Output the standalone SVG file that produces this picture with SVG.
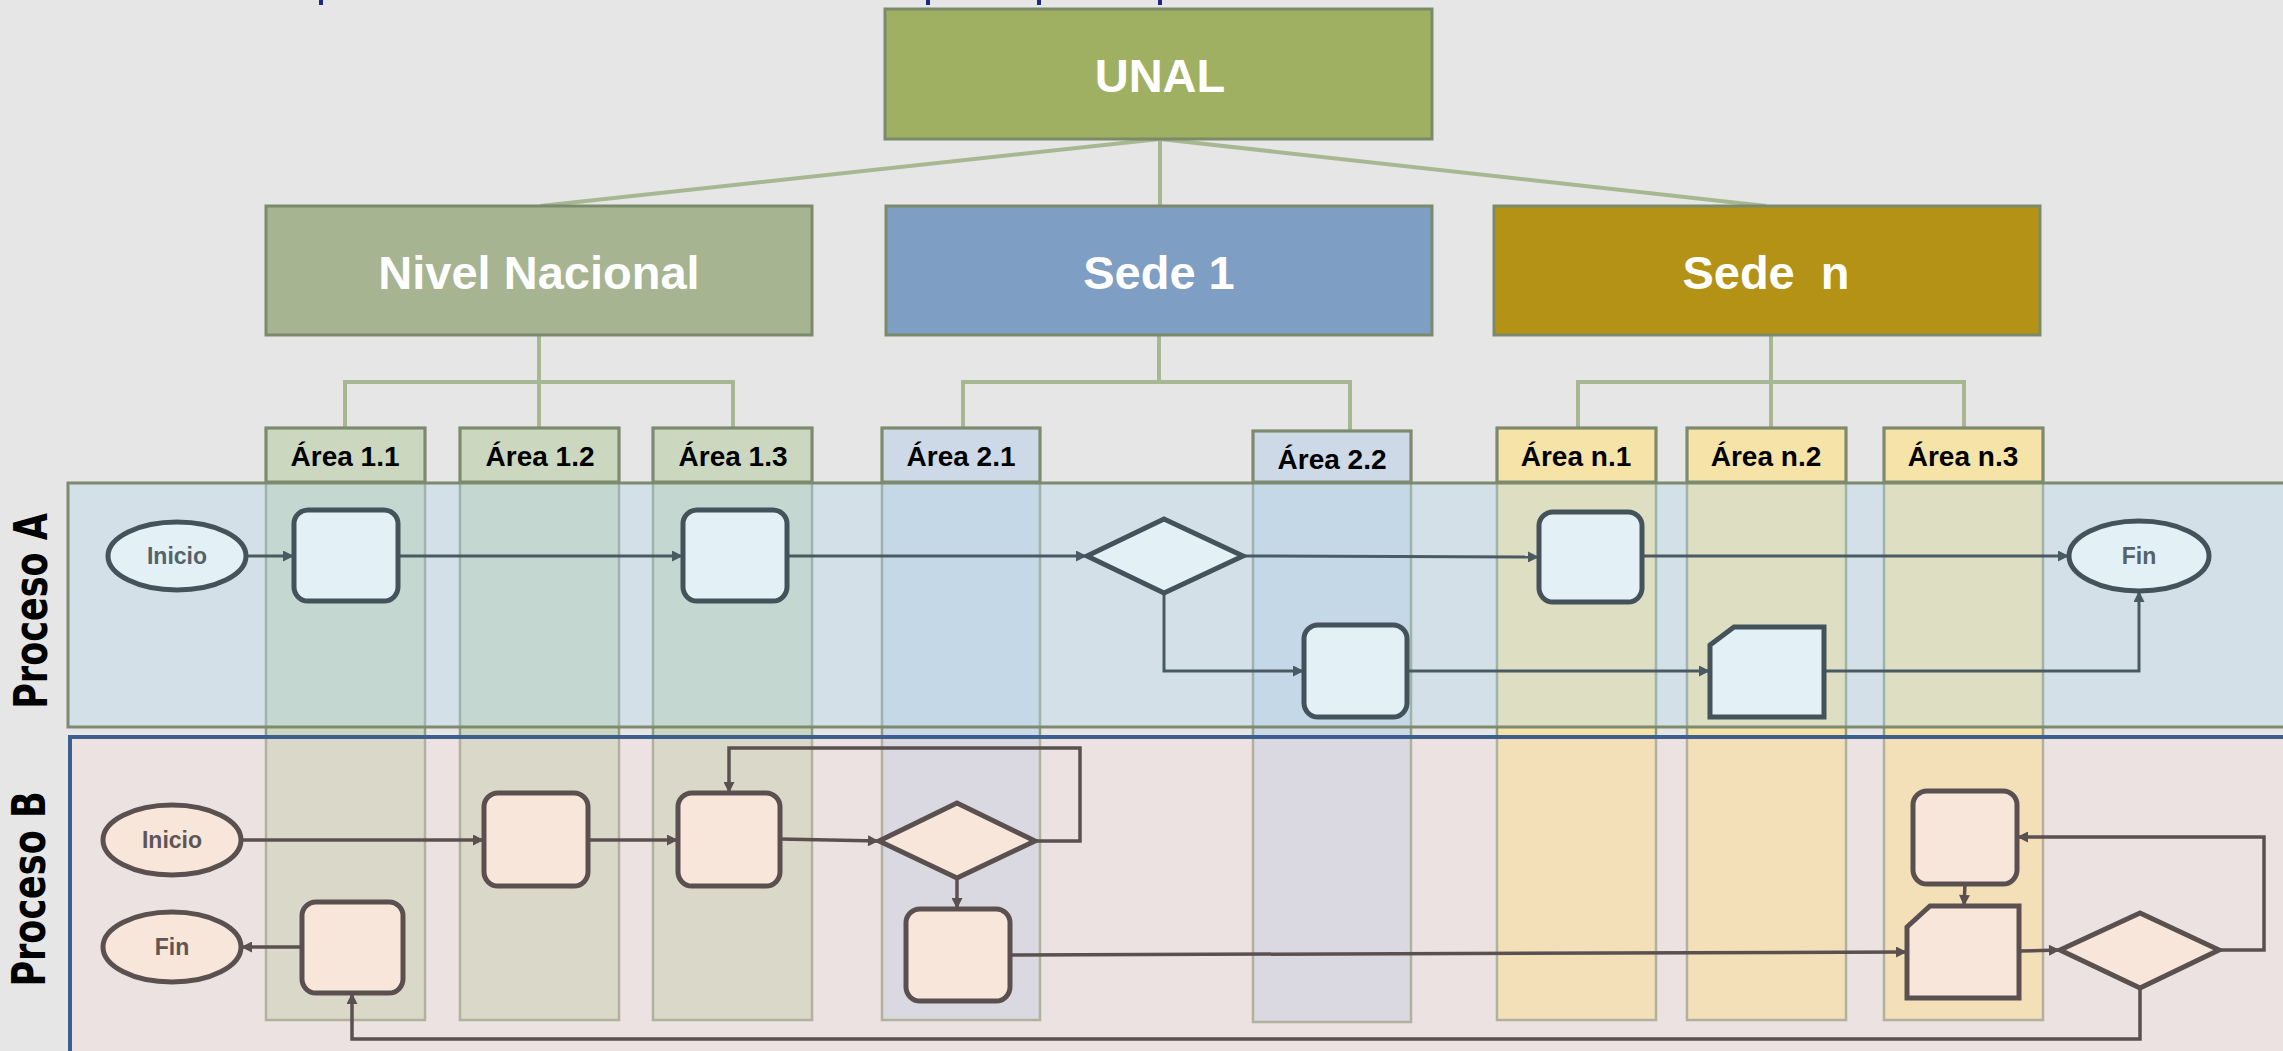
<svg xmlns="http://www.w3.org/2000/svg" width="2283" height="1051" viewBox="0 0 2283 1051">
<defs>
<style>
.org{stroke:#7b8a6a;stroke-width:3}
.orgtxt{font-family:"Liberation Sans",Arial,sans-serif;font-weight:bold;font-size:47px;fill:#ffffff;text-anchor:middle}
.tree{stroke:#a7b792;stroke-width:4;fill:none}
.col{stroke:#8e9c80;stroke-width:2.5}
.hdr{fill:none;stroke:#7d8a6e;stroke-width:3}
.c1{fill:#ccd7c0}
.c2{fill:#cdd9e6}
.cn{fill:#f5e3a8}
.areatxt{font-family:"Liberation Sans",Arial,sans-serif;font-weight:bold;font-size:28px;fill:#000;text-anchor:middle}
.lanetxt{font-family:"DejaVu Sans",Verdana,sans-serif;font-weight:bold;font-size:35px;fill:#000;text-anchor:middle}
.nA{fill:#e3f1f6;stroke:#44535b;stroke-width:5}
.nB{fill:#f8e6db;stroke:#5b5050;stroke-width:5}
.tA{font-family:"Liberation Sans",Arial,sans-serif;font-weight:bold;font-size:23px;fill:#55626a;text-anchor:middle}
.tB{font-family:"Liberation Sans",Arial,sans-serif;font-weight:bold;font-size:23px;fill:#5f5555;text-anchor:middle}
.eA{fill:none;stroke:#4a5a62;stroke-width:3;marker-end:url(#arrA)}
.eB{fill:none;stroke:#5b5050;stroke-width:3.5;marker-end:url(#arrB)}
</style>
<marker id="arrA" viewBox="0 0 10 10" refX="10" refY="5" markerWidth="13" markerHeight="11" markerUnits="userSpaceOnUse" orient="auto"><path d="M0,0 L10,5 L0,10 z" fill="#4a5a62"/></marker>
<marker id="arrB" viewBox="0 0 10 10" refX="10" refY="5" markerWidth="13" markerHeight="11" markerUnits="userSpaceOnUse" orient="auto"><path d="M0,0 L10,5 L0,10 z" fill="#5b5050"/></marker>
</defs>
<rect x="0" y="0" width="2283" height="1051" fill="#e6e6e6"/>
<g id="title-fragments" fill="#1a2a85">
<rect x="319" y="0" width="4" height="5"/><rect x="926" y="0" width="4" height="5"/><rect x="1037" y="0" width="4" height="5"/><rect x="1158" y="0" width="4" height="5"/>
</g>
<g id="tree-connectors">
<path class="tree" d="M1160,139 L540,206 M1160,139 L1160,206 M1160,139 L1766,206"/>
<path class="tree" d="M539,335 V382 M345,428 V382 H733 V428 M539,382 V428"/>
<path class="tree" d="M1159,336 V382 M963,428 V382 H1350 V431"/>
<path class="tree" d="M1771,336 V382 M1578,428 V382 H1964 V428 M1771,382 V428"/>
</g>
<g id="unal"><rect class="org" x="885" y="9" width="547" height="130" fill="#9fb062"/><text class="orgtxt" x="1160" y="92">UNAL</text></g>
<g id="nivel-nacional"><rect class="org" x="266" y="206" width="546" height="129" fill="#a6b491"/><text class="orgtxt" x="539" y="289">Nivel Nacional</text></g>
<g id="sede-1"><rect class="org" x="886" y="206" width="546" height="129" fill="#7f9ec3"/><text class="orgtxt" x="1159" y="289">Sede 1</text></g>
<g id="sede-n"><rect class="org" x="1494" y="206" width="546" height="129" fill="#b49215"/><text class="orgtxt" x="1766" y="289" xml:space="preserve">Sede  n</text></g>
<g id="columns">
<g id="area-1-1"><rect class="col c1" x="266" y="428" width="159" height="592"/><rect class="hdr" x="266" y="428" width="159" height="54"/></g>
<g id="area-1-2"><rect class="col c1" x="460" y="428" width="159" height="592"/><rect class="hdr" x="460" y="428" width="159" height="54"/></g>
<g id="area-1-3"><rect class="col c1" x="653" y="428" width="159" height="592"/><rect class="hdr" x="653" y="428" width="159" height="54"/></g>
<g id="area-2-1"><rect class="col c2" x="882" y="428" width="158" height="592"/><rect class="hdr" x="882" y="428" width="158" height="54"/></g>
<g id="area-2-2"><rect class="col c2" x="1253" y="431" width="158" height="591"/><rect class="hdr" x="1253" y="431" width="158" height="51"/></g>
<g id="area-n-1"><rect class="col cn" x="1497" y="428" width="159" height="592"/><rect class="hdr" x="1497" y="428" width="159" height="54"/></g>
<g id="area-n-2"><rect class="col cn" x="1687" y="428" width="159" height="592"/><rect class="hdr" x="1687" y="428" width="159" height="54"/></g>
<g id="area-n-3"><rect class="col cn" x="1884" y="428" width="159" height="592"/><rect class="hdr" x="1884" y="428" width="159" height="54"/></g>
</g>
<g id="lanes">
<rect id="lane-a" x="68" y="483" width="2230" height="244" fill="#b9d8e8" fill-opacity="0.4" stroke="#7d8a6e" stroke-width="3"/>
<rect id="lane-b" x="70" y="737" width="2230" height="330" fill="#f4dbd8" fill-opacity="0.35" stroke="#3d5f8f" stroke-width="4"/>
</g>
<g id="area-labels">
<text class="areatxt" x="345" y="466">Área 1.1</text>
<text class="areatxt" x="540" y="466">Área 1.2</text>
<text class="areatxt" x="733" y="466">Área 1.3</text>
<text class="areatxt" x="961" y="466">Área 2.1</text>
<text class="areatxt" x="1332" y="469">Área 2.2</text>
<text class="areatxt" x="1576" y="466">Área n.1</text>
<text class="areatxt" x="1766" y="466">Área n.2</text>
<text class="areatxt" x="1963" y="466">Área n.3</text>
</g>
<g id="lane-labels">
<text class="lanetxt" transform="translate(47,611) rotate(-90) scale(1,1.3)">Proceso A</text>
<text class="lanetxt" transform="translate(45,889) rotate(-90) scale(1,1.3)">Proceso B</text>
</g>
<g id="connectors">
<path class="eA" d="M247,556 H294"/>
<path class="eA" d="M398,556 H683"/>
<path class="eA" d="M787,556 H1087"/>
<path class="eA" d="M1243,556 L1539,557"/>
<path class="eA" d="M1164,593 V671 H1304"/>
<path class="eA" d="M1407,671 H1710"/>
<path class="eA" d="M1824,671 H2139 V591"/>
<path class="eA" d="M1642,556 H2069"/>
<path class="eB" d="M241,840 H484"/>
<path class="eB" d="M588,840 H678"/>
<path class="eB" d="M780,839 L879,841"/>
<path class="eB" d="M1035,841 H1080 V748 H729 V793"/>
<path class="eB" d="M957,878 V909"/>
<path class="eB" d="M1010,955 L1907,952"/>
<path class="eB" d="M1965,884 L1964,906"/>
<path class="eB" d="M2019,951 L2060,950"/>
<path class="eB" d="M2219,950 H2264 V837 H2017"/>
<path class="eB" d="M2140,988 V1039 H352 V993"/>
<path class="eB" d="M302,947 H241"/>
</g>
<g id="a-inicio"><ellipse class="nA" cx="177" cy="556" rx="69" ry="34"/><text class="tA" x="177" y="564">Inicio</text></g>
<g id="a-task-1-1"><rect class="nA" x="294" y="510" width="104" height="91" rx="14"/></g>
<g id="a-task-1-3"><rect class="nA" x="683" y="510" width="104" height="91" rx="14"/></g>
<g id="a-decision"><polygon class="nA" points="1087,556 1164,519 1243,556 1164,593"/></g>
<g id="a-task-n-1"><rect class="nA" x="1539" y="512" width="103" height="90" rx="14"/></g>
<g id="a-task-2-2"><rect class="nA" x="1304" y="625" width="103" height="92" rx="14"/></g>
<g id="a-card-n-2"><polygon class="nA" points="1710,645 1734,627 1824,627 1824,717 1710,717"/></g>
<g id="a-fin"><ellipse class="nA" cx="2139" cy="556" rx="70" ry="35"/><text class="tA" x="2139" y="564">Fin</text></g>
<g id="b-inicio"><ellipse class="nB" cx="172" cy="840" rx="69" ry="35"/><text class="tB" x="172" y="848">Inicio</text></g>
<g id="b-fin"><ellipse class="nB" cx="172" cy="947" rx="69" ry="35"/><text class="tB" x="172" y="955">Fin</text></g>
<g id="b-task-1-1"><rect class="nB" x="302" y="902" width="101" height="91" rx="14"/></g>
<g id="b-task-1-2"><rect class="nB" x="484" y="793" width="104" height="93" rx="14"/></g>
<g id="b-task-1-3"><rect class="nB" x="678" y="793" width="102" height="93" rx="14"/></g>
<g id="b-decision-2-1"><polygon class="nB" points="879,841 957,803 1035,841 957,878"/></g>
<g id="b-task-2-1"><rect class="nB" x="906" y="909" width="104" height="92" rx="14"/></g>
<g id="b-task-n-3"><rect class="nB" x="1913" y="791" width="104" height="93" rx="14"/></g>
<g id="b-card-n-3"><polygon class="nB" points="1907,927 1930,906 2019,906 2019,998 1907,998"/></g>
<g id="b-decision-n"><polygon class="nB" points="2060,950 2140,913 2219,950 2140,988"/></g>
</svg>
